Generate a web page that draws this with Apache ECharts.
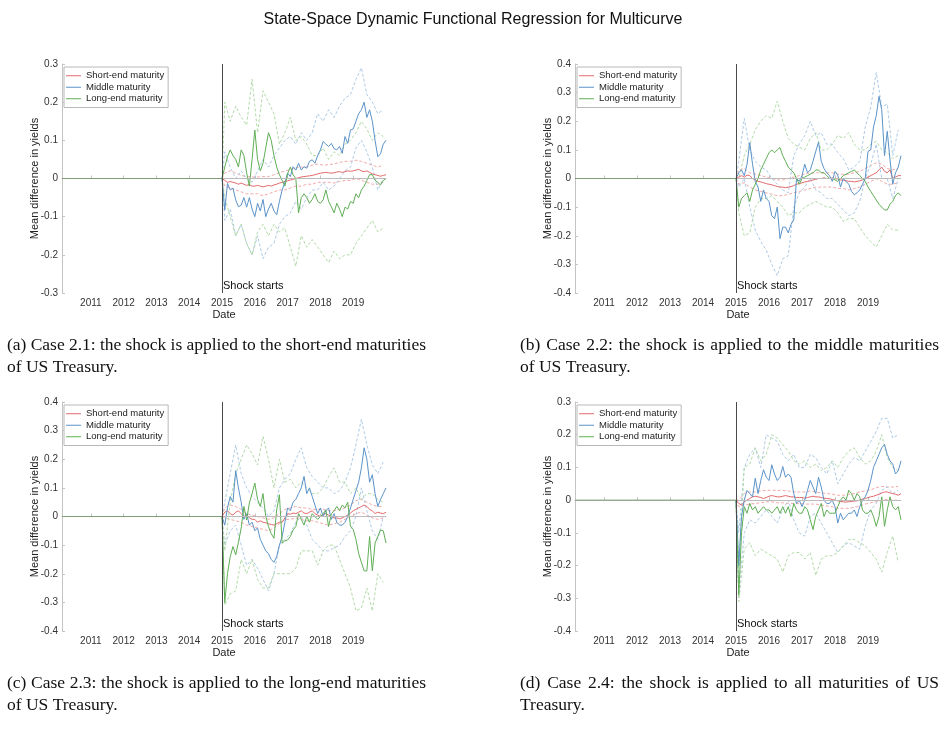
<!DOCTYPE html>
<html>
<head>
<meta charset="utf-8">
<title>State-Space Dynamic Functional Regression for Multicurve</title>
<script src="https://cdn.jsdelivr.net/npm/echarts@6/dist/echarts.min.js"></script>
<style>
  html, body { margin: 0; padding: 0; background: #fff; }
  #chart { width: 946px; height: 731px; }
</style>
</head>
<body>
<div id="chart"></div>
<script>
// x axis: decimal years; shock applied at the start of 2015
const X_MIN = 2010.12
const X_MAX = 2020
const SHOCK = 2015
const YEAR_TICKS = [2011, 2012, 2013, 2014, 2015, 2016, 2017, 2018, 2019]
const NAMES = ['Short-end maturity', 'Middle maturity', 'Long-end maturity']

// before the shock every curve sits at zero
const PRE_X = [X_MIN, SHOCK]
const PRE_Y = [0, 0]

// mean series: one value per month, Jan 2015 .. Jan 2020 (rows = years)
// confidence bands: Jan 2015, then every other month from Feb 2015

// ---- (a) shock on short-end maturities ----
const aShort = [
  0, -0.005, -0.01, -0.008, -0.01, -0.012, -0.015, -0.012, -0.015, -0.018, -0.016, -0.02,
  -0.02, -0.018, -0.02, -0.022, -0.02, -0.018, -0.02, -0.017, -0.015, -0.012, -0.01, -0.008,
  -0.006, -0.004, -0.002, 0, 0.002, 0.004, 0.005, 0.006, 0.007, 0.008, 0.01, 0.012,
  0.014, 0.015, 0.016, 0.015, 0.014, 0.015, 0.017, 0.018, 0.016, 0.018, 0.02, 0.019,
  0.02, 0.022, 0.024, 0.02, 0.018, 0.02, 0.016, 0.012, 0.01, 0.008, 0.006, 0.008,
  0.01
]
const aMid = [
  0, -0.083, -0.013, -0.03, -0.025, -0.056, -0.074, -0.07, -0.05, -0.075, -0.05, -0.08,
  -0.1, -0.065, -0.085, -0.055, -0.1, -0.08, -0.065, -0.085, -0.095, -0.06, -0.03, -0.01,
  0.014, 0.005, 0.031, 0.022, 0.04, 0.022, 0.031, 0.027, 0.045, 0.049, 0.04, 0.06,
  0.075, 0.097, 0.09, 0.084, 0.092, 0.078, 0.075, 0.084, 0.066, 0.11, 0.092, 0.127,
  0.13, 0.15, 0.17, 0.18, 0.2, 0.16, 0.18, 0.15, 0.1, 0.057, 0.065, 0.09,
  0.1
]
const aLong = [
  0, 0.03, 0.057, 0.075, 0.06, 0.05, 0.03, 0.075, 0.06, 0.015, -0.02, 0.05,
  0.127, 0.05, 0.02, 0.04, 0.08, 0.12, 0.1, 0.06, 0.03, 0.01, -0.005, -0.02,
  0.013, 0.03, 0.01, 0, -0.09, -0.05, -0.04, -0.05, -0.065, -0.055, -0.04, -0.06,
  -0.065, -0.056, -0.03, -0.06, -0.074, -0.09, -0.065, -0.08, -0.1, -0.075, -0.08, -0.06,
  -0.065, -0.04, -0.05, -0.03, -0.02, -0.005, 0.01, 0.01, -0.005, -0.01, -0.017, -0.005,
  0
]
const aShortUp = [
  0, 0.015, 0.02, 0.014, 0.008, 0.005,
  0.004, 0.004, 0.005, 0.005, 0.01, 0.015,
  0.02, 0.024, 0.028, 0.03, 0.03, 0.035,
  0.038, 0.035, 0.036, 0.038, 0.042, 0.045,
  0.045, 0.048, 0.045, 0.04, 0.035, 0.03,
  0.035
]
const aShortLo = [
  0, -0.02, -0.025, -0.03, -0.035, -0.04,
  -0.04, -0.04, -0.045, -0.04, -0.035, -0.03,
  -0.03, -0.025, -0.02, -0.02, -0.015, -0.015,
  -0.01, -0.01, -0.01, -0.012, -0.008, -0.005,
  -0.005, 0, -0.005, -0.01, -0.015, -0.015,
  -0.01
]
const aMidUp = [
  0, 0.07, 0.03, 0, 0.02, 0,
  -0.01, 0.02, 0.05, 0.03, 0.06, 0.08,
  0.1, 0.11, 0.09, 0.12, 0.1, 0.12,
  0.17, 0.15, 0.18, 0.16, 0.19, 0.21,
  0.22, 0.26, 0.29, 0.22, 0.2, 0.17,
  0.18
]
const aMidLo = [
  0, -0.11, -0.08, -0.15, -0.12, -0.17,
  -0.2, -0.15, -0.21, -0.18, -0.17, -0.12,
  -0.1, -0.09, -0.06, -0.08, -0.05, -0.03,
  -0.03, -0.01, -0.03, -0.02, 0, 0.02,
  0.03, 0.08, 0.1, 0.07, 0.03, -0.03,
  0
]
const aLongUp = [
  0, 0.2, 0.15, 0.19, 0.16, 0.14,
  0.26, 0.12, 0.23, 0.2, 0.17, 0.09,
  0.12, 0.16, 0.1, 0.11, 0.09, 0.06,
  0.06, 0.08, 0.05, 0.07, 0.06, 0.09,
  0.1, 0.12, 0.15, 0.13, 0.1, 0.12,
  0.11
]
const aLongLo = [
  0, -0.05, -0.1, -0.15, -0.12, -0.17,
  -0.2, -0.14, -0.12, -0.15, -0.12, -0.14,
  -0.13, -0.18, -0.23, -0.15, -0.18, -0.16,
  -0.18, -0.2, -0.22, -0.19, -0.21, -0.2,
  -0.2, -0.17, -0.15, -0.13, -0.11, -0.14,
  -0.13
]

// ---- (b) shock on middle maturities ----
const bShort = [
  0, 0.005, 0.01, 0.005, 0.012, 0.01, 0, -0.005, -0.01, -0.012, -0.015, -0.018,
  -0.02, -0.022, -0.025, -0.028, -0.03, -0.03, -0.032, -0.03, -0.028, -0.025, -0.02, -0.018,
  -0.015, -0.012, -0.01, -0.008, -0.005, -0.003, 0, 0, 0.002, 0, 0, 0.002,
  0, -0.002, -0.005, -0.006, -0.008, -0.01, -0.01, -0.012, -0.01, -0.008, -0.005, 0,
  0.005, 0.01, 0.015, 0.02, 0.03, 0.04, 0.025, 0.02, 0.03, 0, 0.005, 0.01,
  0.01
]
const bMid = [
  0, 0.02, 0.03, 0.01, 0.05, 0.125, 0.05, -0.01, -0.03, -0.08, -0.04, -0.07,
  -0.08, -0.13, -0.14, -0.1, -0.21, -0.17, -0.17, -0.19, -0.16, -0.145, 0, -0.01,
  0.01, 0.05, 0.02, 0.03, 0.06, 0.095, 0.127, 0.06, 0.035, 0.02, 0.01, -0.01,
  0.025, 0.012, -0.03, 0, -0.01, -0.02, -0.045, -0.057, -0.05, -0.04, -0.02, 0,
  0.095, 0.1, 0.18, 0.22, 0.287, 0.24, 0.08, 0.165, 0.065, -0.02, 0.02, 0.04,
  0.08
]
const bLong = [
  0, -0.1, -0.07, -0.06, -0.05, -0.08, -0.04, -0.02, 0, 0.03, 0.05, 0.07,
  0.09, 0.1, 0.09, 0.1, 0.108, 0.08, 0.06, 0.04, 0.03, 0.02, 0, -0.02,
  0, 0.005, 0.01, 0.015, 0.02, 0.03, 0.03, 0.02, 0.02, 0.01, 0, 0,
  -0.005, -0.01, 0, 0.01, 0.015, 0.02, 0.025, 0.03, 0.02, 0.01, 0, -0.01,
  -0.03, -0.045, -0.06, -0.075, -0.09, -0.1, -0.11, -0.11, -0.09, -0.08, -0.06, -0.05,
  -0.06
]
const bShortUp = [
  0, 0.03, 0.035, 0.02, 0.015, 0.01,
  0.005, 0, -0.005, -0.005, 0, 0.005,
  0.01, 0.015, 0.02, 0.02, 0.02, 0.02,
  0.02, 0.015, 0.015, 0.015, 0.02, 0.025,
  0.035, 0.045, 0.055, 0.05, 0.035, 0.03,
  0.035
]
const bShortLo = [
  0, -0.02, -0.015, -0.03, -0.04, -0.045,
  -0.05, -0.055, -0.06, -0.06, -0.055, -0.05,
  -0.045, -0.04, -0.035, -0.03, -0.03, -0.03,
  -0.03, -0.035, -0.035, -0.04, -0.035, -0.03,
  -0.02, -0.01, 0, -0.01, -0.02, -0.02,
  -0.015
]
const bMidUp = [
  0, 0.06, 0.21, 0.1, 0.06, 0.04,
  0.03, 0, -0.02, -0.04, -0.05, 0.08,
  0.12, 0.15, 0.2, 0.15, 0.16, 0.12,
  0.12, 0.09, 0.07, 0.03, 0.04, 0.06,
  0.18, 0.25, 0.37, 0.25, 0.26, 0.08,
  0.17
]
const bMidLo = [
  0, -0.03, 0, -0.1, -0.18, -0.22,
  -0.25, -0.3, -0.34, -0.28, -0.27, -0.1,
  -0.05, -0.03, 0, -0.04, -0.05, -0.07,
  -0.07, -0.09, -0.11, -0.13, -0.12, -0.08,
  0, 0.05, 0.12, 0, 0, -0.07,
  0
]
const bLongUp = [
  0, 0, 0.08, 0.12, 0.17, 0.2,
  0.22, 0.21, 0.27, 0.2, 0.14, 0.12,
  0.11, 0.1, 0.14, 0.16, 0.1, 0.1,
  0.12, 0.15, 0.14, 0.16, 0.12, 0.1,
  0.1, 0.12, 0.13, 0.1, 0.09, 0.07,
  0.08
]
const bLongLo = [
  0, -0.12, -0.2, -0.19, -0.1, -0.07,
  -0.07, -0.06, -0.08, -0.1, -0.13, -0.12,
  -0.12, -0.1, -0.09, -0.08, -0.09, -0.1,
  -0.1, -0.12, -0.15, -0.14, -0.14, -0.17,
  -0.2, -0.22, -0.24, -0.2, -0.16, -0.18,
  -0.18
]

// ---- (c) shock on long-end maturities ----
const cShort = [
  0, 0.015, 0.02, 0.01, 0.005, 0.015, 0.02, 0.01, 0, 0.005, -0.005, -0.01,
  -0.01, -0.02, -0.015, -0.02, -0.022, -0.025, -0.028, -0.03, -0.025, -0.02, -0.02, -0.005,
  0.01, 0.008, 0.012, 0.01, 0.015, 0.02, 0.012, 0.01, 0.015, 0.02, 0.01, 0.005,
  0, 0.008, 0.01, 0.005, 0, -0.005, -0.005, -0.008, -0.005, 0, 0.005, 0.012,
  0.02, 0.025, 0.03, 0.035, 0.04, 0.035, 0.025, 0.02, 0.01, 0.015, 0.012, 0.01,
  0.015
]
const cMid = [
  0, -0.03, 0.03, 0.07, 0.05, 0.16, 0.1, 0.05, -0.01, 0.01, -0.03, -0.02,
  -0.05, -0.04, -0.08, -0.1, -0.12, -0.13, -0.15, -0.16, -0.14, -0.1, -0.07, -0.02,
  0.03, 0.02, 0.05, 0.06, 0.08, 0.1, 0.14, 0.08, 0.1, 0.07, 0.04, 0.01,
  0.03, 0, 0.02, 0.03, -0.01, 0.01, -0.02, -0.03, -0.03, -0.02, 0, 0.03,
  0.06, 0.09, 0.12, 0.17, 0.24, 0.2, 0.12, 0.146, 0.08, 0.035, 0.06, 0.08,
  0.1
]
const cLong = [
  0, -0.3, -0.2, -0.14, -0.105, -0.134, -0.09, -0.04, 0.035, -0.012, 0.047, 0.08,
  0.117, 0.06, 0.035, 0.08, 0, -0.035, -0.06, -0.076, 0.023, 0.076, -0.093, -0.085,
  -0.082, -0.07, -0.047, -0.035, 0.01, -0.01, -0.03, 0, -0.02, 0.01, 0, -0.01,
  0, 0.01, 0.023, -0.035, 0.01, 0.02, 0.035, 0.02, 0.04, 0.03, 0.05, -0.035,
  -0.045, -0.08, -0.13, -0.16, -0.19, -0.19, -0.07, -0.19, -0.093, -0.07, -0.047, -0.05,
  -0.093
]
const cShortUp = [
  0, 0.03, 0.04, 0.035, 0.025, 0.01,
  0.005, 0, -0.005, -0.01, -0.005, 0.01,
  0.025, 0.03, 0.035, 0.03, 0.03, 0.025,
  0.025, 0.025, 0.02, 0.02, 0.025, 0.03,
  0.04, 0.055, 0.06, 0.05, 0.04, 0.035,
  0.035
]
const cShortLo = [
  0, -0.005, -0.01, -0.015, -0.02, -0.03,
  -0.035, -0.04, -0.045, -0.05, -0.04, -0.025,
  -0.01, -0.01, -0.005, -0.01, -0.015, -0.015,
  -0.02, -0.025, -0.03, -0.025, -0.02, -0.01,
  0, 0.01, 0.015, 0.005, -0.005, -0.01,
  -0.005
]
const cMidUp = [
  0, 0.05, 0.15, 0.25, 0.15, 0.1,
  0.07, 0.05, 0.03, 0, 0.02, 0.1,
  0.13, 0.15, 0.2, 0.24, 0.17, 0.14,
  0.12, 0.1, 0.1, 0.08, 0.09, 0.12,
  0.17, 0.25, 0.34, 0.25, 0.18, 0.15,
  0.19
]
const cMidLo = [
  0, -0.1, -0.05, -0.03, -0.1, -0.17,
  -0.15, -0.18, -0.22, -0.26, -0.2, -0.1,
  -0.08, -0.06, -0.02, 0, -0.03, -0.08,
  -0.1, -0.12, -0.12, -0.11, -0.1, -0.07,
  -0.05, 0, 0.1, 0.02, -0.05, -0.08,
  0
]
const cLongUp = [
  0, -0.12, 0.05, 0.15, 0.2, 0.25,
  0.22, 0.18, 0.28, 0.2, 0.1, 0.2,
  0.12, 0.13, 0.1, 0.12, 0.1, 0.08,
  0.08, 0.1, 0.14, 0.17, 0.12, 0.12,
  0.08, 0.1, 0.06, 0.08, 0.08, 0.06,
  0.05
]
const cLongLo = [
  0, -0.31, -0.27, -0.26, -0.15, -0.2,
  -0.15, -0.22, -0.25, -0.25, -0.2, -0.2,
  -0.2, -0.2, -0.18, -0.12, -0.12, -0.12,
  -0.17, -0.12, -0.1, -0.1, -0.15, -0.2,
  -0.25, -0.33, -0.32, -0.25, -0.33, -0.2,
  -0.23
]

// ---- (d) shock on all maturities ----
const dShort = [
  0, -0.01, -0.015, -0.005, 0, 0.005, 0.01, 0.012, 0.01, 0.008, 0.005, 0.008,
  0.012, 0.014, 0.012, 0.01, 0.01, 0.012, 0.014, 0.012, 0.01, 0.01, 0.008, 0.008,
  0.008, 0.006, 0.008, 0.01, 0.012, 0.01, 0.01, 0.008, 0.006, 0.005, 0.004, 0.002,
  0, -0.002, -0.004, -0.005, -0.006, -0.005, -0.004, -0.003, -0.002, 0, 0.003, 0.005,
  0.008, 0.01, 0.012, 0.015, 0.018, 0.022, 0.025, 0.025, 0.022, 0.02, 0.018, 0.015,
  0.02
]
const dMid = [
  0, -0.2, -0.05, 0, 0.03, 0.02, 0.01, 0.067, 0.02, 0.06, 0.093, 0.07,
  0.06, 0.108, 0.08, 0.06, 0.07, 0.103, 0.07, 0.08, 0.07, 0.02, -0.01, 0,
  -0.02, 0, 0.03, 0.06, 0.04, 0.02, 0.07, 0.04, 0, -0.01, -0.01, 0,
  -0.02, -0.07, -0.04, -0.06, -0.05, -0.04, -0.04, -0.03, -0.05, -0.02, 0, 0.01,
  0.03, 0.06, 0.1, 0.12, 0.14, 0.16, 0.17, 0.14, 0.12, 0.11, 0.08, 0.09,
  0.12
]
const dLong = [
  0, -0.29, -0.1, -0.02, -0.04, -0.01, -0.03, -0.02, -0.04, -0.03, -0.02, -0.03,
  -0.03, -0.04, -0.03, -0.02, -0.04, -0.02, -0.04, -0.02, -0.05, -0.01, -0.03, -0.04,
  -0.04, -0.02, -0.03, -0.06, -0.09, -0.05, -0.03, -0.01, -0.05, -0.03, -0.04, -0.04,
  -0.04, -0.02, 0, 0.01, 0, 0.03, 0.02, 0, 0.02, 0.01, -0.03, -0.04,
  -0.04, -0.03, -0.05, -0.08, -0.05, 0.01, -0.08, -0.03, 0.01, -0.02, -0.03, -0.02,
  -0.06
]
const dShortUp = [
  0, 0, 0.02, 0.025, 0.025, 0.028,
  0.03, 0.03, 0.03, 0.03, 0.028, 0.025,
  0.025, 0.025, 0.028, 0.025, 0.022, 0.02,
  0.018, 0.015, 0.015, 0.018, 0.02, 0.025,
  0.028, 0.032, 0.038, 0.042, 0.04, 0.04,
  0.042
]
const dShortLo = [
  0, -0.02, -0.015, -0.012, -0.01, -0.008,
  -0.005, -0.005, -0.008, -0.008, -0.01, -0.01,
  -0.01, -0.012, -0.012, -0.012, -0.015, -0.018,
  -0.02, -0.025, -0.025, -0.025, -0.022, -0.018,
  -0.012, -0.008, -0.005, 0, 0.002, 0,
  0
]
const dMidUp = [
  0, -0.1, 0.1, 0.14, 0.16, 0.1,
  0.2, 0.19, 0.18, 0.14, 0.12, 0.14,
  0.1, 0.1, 0.14, 0.13, 0.1, 0.08,
  0.12, 0.05, 0.08, 0.11, 0.13, 0.12,
  0.15, 0.18, 0.21, 0.25, 0.25, 0.19,
  0.2
]
const dMidLo = [
  0, -0.28, -0.1, -0.06, -0.07, -0.05,
  -0.03, -0.05, -0.07, -0.03, 0, -0.06,
  -0.1, -0.11, -0.05, -0.04, -0.07, -0.1,
  -0.13, -0.16, -0.14, -0.13, -0.14, -0.15,
  -0.08, -0.03, -0.01, 0.03, 0.04, 0.02,
  0.03
]
const dLongUp = [
  0, -0.2, 0.1, 0.11, 0.16, 0.12,
  0.14, 0.2, 0.19, 0.17, 0.15, 0.12,
  0.11, 0.12, 0.1, 0.11, 0.09, 0.1,
  0.12, 0.1, 0.13, 0.15, 0.16, 0.13,
  0.11, 0.12, 0.15, 0.2, 0.13, 0.1,
  0.09
]
const dLongLo = [
  0, -0.31, -0.15, -0.13, -0.17, -0.15,
  -0.16, -0.17, -0.18, -0.22, -0.17, -0.16,
  -0.16, -0.18, -0.16, -0.23, -0.18, -0.17,
  -0.17, -0.16, -0.14, -0.12, -0.12, -0.13,
  -0.14, -0.16, -0.18, -0.22, -0.16, -0.11,
  -0.19
]

const CAPTIONS = [
  ['(a) Case 2.1: the shock is applied to the short-end maturities', 'of US Treasury.'],
  ['(b) Case 2.2: the shock is applied to the middle maturities', 'of US Treasury.'],
  ['(c) Case 2.3: the shock is applied to the long-end maturities', 'of US Treasury.'],
  ['(d) Case 2.4: the shock is applied to all maturities of US', 'Treasury.']
]

// colours: means, then the lighter dashed bands
const COLORS = ['#e36a6c', '#5b93c9', '#5fae55']
const BAND_COLORS = ['#f2a9a9', '#aecbe6', '#b2dba8']
const PRE_COLOR = '#7f9d77'

const panels = [
  { left: 62, top: 64, width: 324, yMin: -0.3, yMax: 0.3, capX: 7, capY: 334,
    means: [aShort, aMid, aLong], ups: [aShortUp, aMidUp, aLongUp], los: [aShortLo, aMidLo, aLongLo] },
  { left: 575, top: 64, width: 326, yMin: -0.4, yMax: 0.4, capX: 520, capY: 334,
    means: [bShort, bMid, bLong], ups: [bShortUp, bMidUp, bLongUp], los: [bShortLo, bMidLo, bLongLo] },
  { left: 62, top: 402, width: 324, yMin: -0.4, yMax: 0.4, capX: 7, capY: 672,
    means: [cShort, cMid, cLong], ups: [cShortUp, cMidUp, cLongUp], los: [cShortLo, cMidLo, cLongLo] },
  { left: 575, top: 402, width: 326, yMin: -0.4, yMax: 0.3, capX: 520, capY: 672,
    means: [dShort, dMid, dLong], ups: [dShortUp, dMidUp, dLongUp], los: [dShortLo, dMidLo, dLongLo] }
]
const PLOT_H = 229
const CAP_W = 419
const CAP_SIZE = 17.5

const monthX = i => SHOCK + i / 12
const bandX = i => (i === 0 ? SHOCK : SHOCK + (2 * i - 1) / 12)

const fmtY = v => (Math.abs(v) < 1e-9 ? '0' : String(Math.round(v * 10) / 10))

const chart = echarts.init(document.getElementById('chart'), null, { renderer: 'canvas' })

const grid = [], xAxis = [], yAxis = [], series = [], legend = [], graphic = []
const FONT = '"Liberation Sans", Arial, Helvetica, sans-serif'
const SERIF = '"Liberation Serif", "Times New Roman", serif'
const AXIS_COLOR = '#c4c4c4'

// measure words so the first caption line can be justified like the paper
const measureCtx = document.createElement('canvas').getContext('2d')
function justifiedLine(text, x, y, width, size) {
  measureCtx.font = size + 'px ' + SERIF
  const words = text.split(' ')
  const widths = words.map(w => measureCtx.measureText(w).width)
  const total = widths.reduce((s, w) => s + w, 0)
  const gap = Math.max((width - total) / (words.length - 1), size * 0.2)
  let cx = x
  return words.map((w, k) => {
    const el = { type: 'text', x: cx, y: y, silent: true,
      style: { text: w, fontSize: size, fontFamily: SERIF, fill: '#111', verticalAlign: 'middle' } }
    cx += widths[k] + gap
    return el
  })
}

panels.forEach((p, idx) => {
  grid.push({ left: p.left, top: p.top, width: p.width, height: PLOT_H, containLabel: false })
  xAxis.push({
    type: 'value', gridIndex: idx, min: X_MIN, max: X_MAX,
    name: 'Date', nameLocation: 'middle', nameGap: 16,
    nameTextStyle: { fontSize: 11, color: '#222', fontFamily: FONT },
    axisLine: { show: true, lineStyle: { color: AXIS_COLOR, width: 1 } },
    axisTick: { show: true, inside: true, length: 3, customValues: YEAR_TICKS, lineStyle: { color: AXIS_COLOR } },
    axisLabel: { customValues: YEAR_TICKS, fontSize: 10, color: '#333', fontFamily: FONT, margin: 5,
      formatter: v => String(Math.round(v)) },
    splitLine: { show: false }
  })
  yAxis.push({
    type: 'value', gridIndex: idx, min: p.yMin, max: p.yMax, interval: 0.1,
    name: 'Mean difference in yields', nameLocation: 'middle', nameGap: 22, nameMoveOverlap: false,
    nameTextStyle: { fontSize: 11, color: '#222', fontFamily: FONT },
    axisLine: { show: true, lineStyle: { color: AXIS_COLOR, width: 1 } },
    axisTick: { show: true, inside: true, length: 3, lineStyle: { color: AXIS_COLOR } },
    axisLabel: { fontSize: 10, color: '#333', fontFamily: FONT, margin: 4, formatter: fmtY },
    splitLine: { show: false }
  })

  // reference lines and the shock label
  series.push({
    type: 'line', xAxisIndex: idx, yAxisIndex: idx, data: [], silent: true, z: 1,
    markLine: {
      silent: true, symbol: 'none', animation: false, label: { show: false },
      data: [
        [{ coord: [SHOCK, 0], lineStyle: { color: '#bcbcbc', width: 1, type: 'solid' } }, { coord: [X_MAX, 0] }],
        { xAxis: SHOCK, lineStyle: { color: '#4a4a4a', width: 1, type: 'solid' } }
      ]
    },
    markPoint: {
      silent: true, symbol: 'rect', symbolSize: 0, animation: false,
      data: [{ coord: [SHOCK, p.yMin] }],
      label: { show: true, formatter: 'Shock starts', position: [1, -13],
        fontSize: 11, color: '#111', fontFamily: FONT }
    }
  })

  // the overlapping curves before the shock
  series.push({
    name: 'pre-shock ' + idx, type: 'line', xAxisIndex: idx, yAxisIndex: idx, silent: true, z: 3,
    symbol: 'none', animation: false,
    data: PRE_X.map((x, i) => [x, PRE_Y[i]]),
    lineStyle: { color: PRE_COLOR, width: 1 }
  })

  // dashed bands
  for (let k = 0; k < 3; k++) {
    ;[p.ups[k], p.los[k]].forEach((vals, j) => {
      series.push({
        name: NAMES[k] + (j ? ' lower' : ' upper') + ' ' + idx,
        type: 'line', xAxisIndex: idx, yAxisIndex: idx, silent: true, z: 2,
        symbol: 'none', animation: false,
        data: vals.map((v, i) => [bandX(i), v]),
        lineStyle: { color: BAND_COLORS[k], width: 1, type: [3, 2] }
      })
    })
  }
  // means after the shock
  for (let k = 0; k < 3; k++) {
    series.push({
      name: NAMES[k], type: 'line', xAxisIndex: idx, yAxisIndex: idx, silent: true, z: 3,
      symbol: 'none', animation: false,
      data: p.means[k].map((v, i) => [monthX(i), v]),
      itemStyle: { color: COLORS[k] },
      lineStyle: { color: COLORS[k], width: 1 }
    })
  }

  legend.push({
    data: NAMES, orient: 'vertical', left: p.left + 2, top: p.top + 3,
    backgroundColor: '#fff', borderColor: '#b8b8b8', borderWidth: 1, borderRadius: 0,
    padding: [3, 4, 3, 2], itemGap: 0, itemWidth: 15, itemHeight: 1, icon: 'rect',
    selectedMode: false,
    textStyle: { fontSize: 9.5, color: '#222', fontFamily: FONT, lineHeight: 11.5 }
  })

  // caption under the panel
  const cap = CAPTIONS[idx]
  justifiedLine(cap[0], p.capX, p.capY + 11, CAP_W, CAP_SIZE).forEach(el => graphic.push(el))
  graphic.push({ type: 'text', x: p.capX, y: p.capY + 33, silent: true,
    style: { text: cap[1], fontSize: CAP_SIZE, fontFamily: SERIF, fill: '#111', verticalAlign: 'middle' } })
})

chart.setOption({
  animation: false,
  backgroundColor: '#fff',
  title: {
    text: 'State-Space Dynamic Functional Regression for Multicurve',
    left: 'center', top: 7,
    textStyle: { fontSize: 16, fontWeight: 'normal', color: '#111', fontFamily: FONT }
  },
  grid, xAxis, yAxis, series, legend, graphic
})
</script>
</body>
</html>
